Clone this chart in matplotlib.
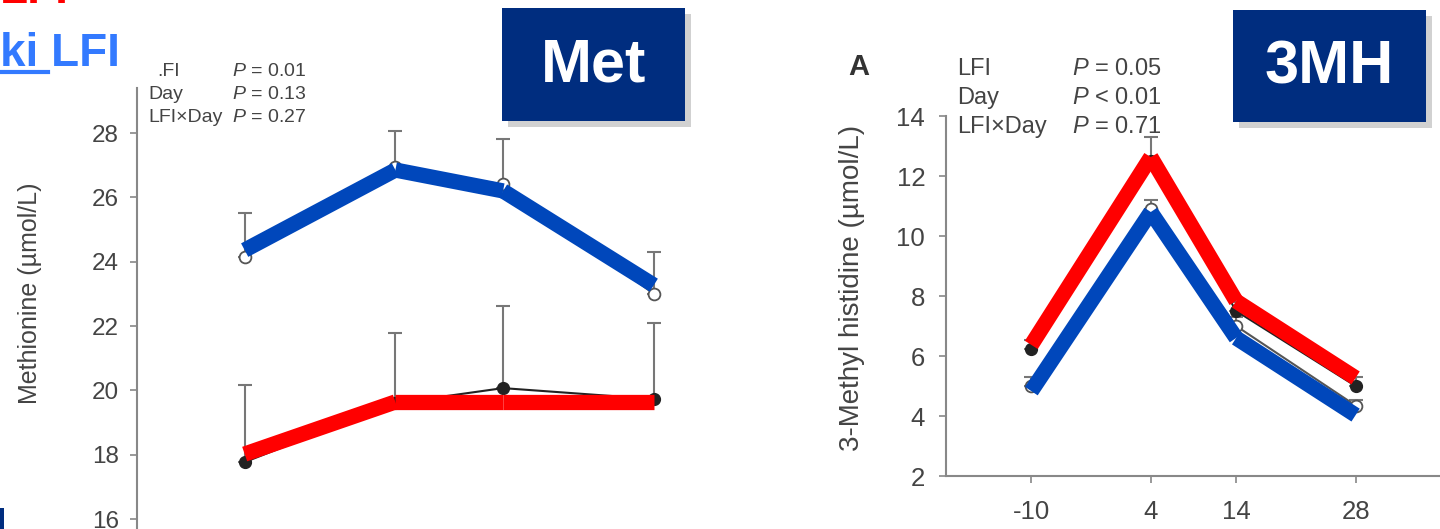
import matplotlib.pyplot as plt
import matplotlib.patches as mpatches
import numpy as np

plt.rcParams['font.family'] = ['Liberation Sans', 'DejaVu Sans']
plt.rcParams['mathtext.fontset'] = 'custom'
plt.rcParams['mathtext.it'] = 'Liberation Sans:italic'
plt.rcParams['mathtext.rm'] = 'Liberation Sans'
plt.rcParams['axes.unicode_minus'] = False

W, H = 1440, 529

# データ
days = [-10, 4, 14, 28]

# Met パネル
met_open = [24.15, 26.95, 26.4, 23.0]
met_open_err = [1.35, 1.1, 1.4, 1.3]
met_fill = [17.77, 19.6, 20.07, 19.73]
met_fill_err = [2.4, 2.18, 2.55, 2.37]
met_blue = [24.36, 26.85, 26.2, 23.27]
met_red = [18.02, 19.64, 19.64, 19.64]
met_yticks = [16, 18, 20, 22, 24, 26, 28]
met_stats = [(".FI", "$P$ = 0.01"), ("Day", "$P$ = 0.13"), ("LFI×Day", "$P$ = 0.27")]

# 3MH パネル
mh_open = [5.0, 10.9, 7.0, 4.35]
mh_open_err = [0.3, 0.3, 0.3, 0.2]
mh_fill = [6.25, 12.5, 7.5, 5.0]
mh_fill_err = [0.3, 0.8, 0.3, 0.3]
mh_red = [6.37, 12.63, 7.83, 5.27]
mh_blue = [4.83, 10.8, 6.6, 4.03]
mh_yticks = [2, 4, 6, 8, 10, 12, 14]
mh_stats = [("LFI", "$P$ = 0.05"), ("Day", "$P$ < 0.01"), ("LFI×Day", "$P$ = 0.71")]

RED = '#ff0000'
BLUE = '#0047bb'
NAVY = '#002d7f'
TXT = '#444444'
SPINE = '#888888'


def px(x, y):
    return x / W, 1 - y / H


def rect(x0, y0, x1, y1):
    return [x0 / W, 1 - y1 / H, (x1 - x0) / W, (y1 - y0) / H]


def style_axes(ax, fs):
    for s in ['top', 'right']:
        ax.spines[s].set_visible(False)
    for s in ['left', 'bottom']:
        ax.spines[s].set_color(SPINE)
        ax.spines[s].set_linewidth(1.5)
    ax.tick_params(colors=SPINE, labelcolor=TXT, labelsize=fs, length=5, width=1.2)


def draw_data(ax, o, oe, f, fe, blue, red, ms):
    z = np.zeros(len(days))
    ax.errorbar(days, o, yerr=[z, oe], fmt='none', ecolor='#777777', elinewidth=1.5, capsize=5, capthick=1.5, zorder=2)
    ax.errorbar(days, f, yerr=[z, fe], fmt='none', ecolor='#777777', elinewidth=1.5, capsize=5, capthick=1.5, zorder=2)
    ax.plot(days, o, '-', color='#555555', lw=1.5, marker='o', ms=ms, mfc='white', mec='#555555', mew=1.3, zorder=3)
    ax.plot(days, f, '-', color='#222222', lw=1.5, marker='o', ms=ms, mfc='#222222', mec='#222222', zorder=3)
    # 太線（手描きの重ね線）は区間ごとに描く
    for i in range(len(days) - 1):
        ax.plot(days[i:i + 2], blue[i:i + 2], color=BLUE, lw=11, solid_capstyle='butt', zorder=4)
        ax.plot(days[i:i + 2], red[i:i + 2], color=RED, lw=11, solid_capstyle='butt', zorder=4)


fig = plt.figure(figsize=(W / 100, H / 100), dpi=100)

# 左パネル Met
ax1 = fig.add_axes(rect(137, 88, 783, 529))
style_axes(ax1, 17.5)
ax1.spines['bottom'].set_visible(False)
ax1.set_xlim(-20, 40)
ax1.set_ylim(15.69, 29.4)
ax1.set_yticks(met_yticks)
ax1.set_xticks([])
ax1.tick_params(axis='y', pad=8)
draw_data(ax1, met_open, met_open_err, met_fill, met_fill_err, met_blue, met_red, 8.5)
fig.text(*px(30, 293), "Methionine (µmol/L)", rotation=90, ha='center', va='center', fontsize=18, color=TXT)

# 右パネル 3MH
ax2 = fig.add_axes(rect(946, 116, 1458, 476))
style_axes(ax2, 18.5)
ax2.set_xlim(-20, 40)
ax2.set_ylim(2, 14)
ax2.set_yticks(mh_yticks)
ax2.set_xticks(days)
ax2.tick_params(axis='y', pad=10)
ax2.tick_params(axis='x', pad=12)
draw_data(ax2, mh_open, mh_open_err, mh_fill, mh_fill_err, mh_blue, mh_red, 8.5)
fig.text(*px(852, 288), "3-Methyl histidine (µmol/L)", rotation=90, ha='center', va='center', fontsize=20, color=TXT)

# 統計テキスト
for i, (a, b) in enumerate(met_stats):
    y = 72 + i * 22.5
    fig.text(*px(148 if i else 157, y), a, fontsize=14, color=TXT, va='center')
    fig.text(*px(306, y), b, fontsize=14, color=TXT, va='center', ha='right')
for i, (a, b) in enumerate(mh_stats):
    y = 69 + i * 29
    fig.text(*px(957, y), a, fontsize=17, color=TXT, va='center')
    fig.text(*px(1162, y), b, fontsize=17, color=TXT, va='center', ha='right')
fig.text(*px(859, 67), "A", fontsize=21, fontweight='bold', color='#333333', ha='center', va='center')

# タイトルボックス
for (x0, y0, x1, y1, label) in [(502, 8, 685, 121, "Met"), (1233, 10, 1426, 122, "3MH")]:
    sh = mpatches.Rectangle(px(x0 + 6, y1 + 6), (x1 - x0) / W, (y1 - y0) / H, transform=fig.transFigure,
                            facecolor='#999999', alpha=0.45, edgecolor='none', zorder=5)
    bx = mpatches.Rectangle(px(x0, y1), (x1 - x0) / W, (y1 - y0) / H, transform=fig.transFigure,
                            facecolor=NAVY, edgecolor='none', zorder=6)
    fig.add_artist(sh)
    fig.add_artist(bx)
    fig.text(*px((x0 + x1) / 2, (y0 + y1) / 2 + 2), label, fontsize=44, fontweight='bold', color='white',
             ha='center', va='center', zorder=7)

# 左上の見切れた文字
fig.text(*px(0, 3), "LFI", fontsize=33, fontweight='bold', color=RED, ha='left', va='baseline')
fig.text(*px(0, 66), "ki LFI", fontsize=33, fontweight='bold', color='#337aff', ha='left', va='baseline')
fig.add_artist(plt.Line2D([0, 48 / W], [1 - 72 / H, 1 - 72 / H], transform=fig.transFigure, color='#337aff', lw=3))

# 左下の切れ端
fig.add_artist(mpatches.Rectangle(px(0, 529), 4 / W, 21 / H, transform=fig.transFigure, facecolor=NAVY, edgecolor='none'))

fig.savefig('out.png', dpi=100)
